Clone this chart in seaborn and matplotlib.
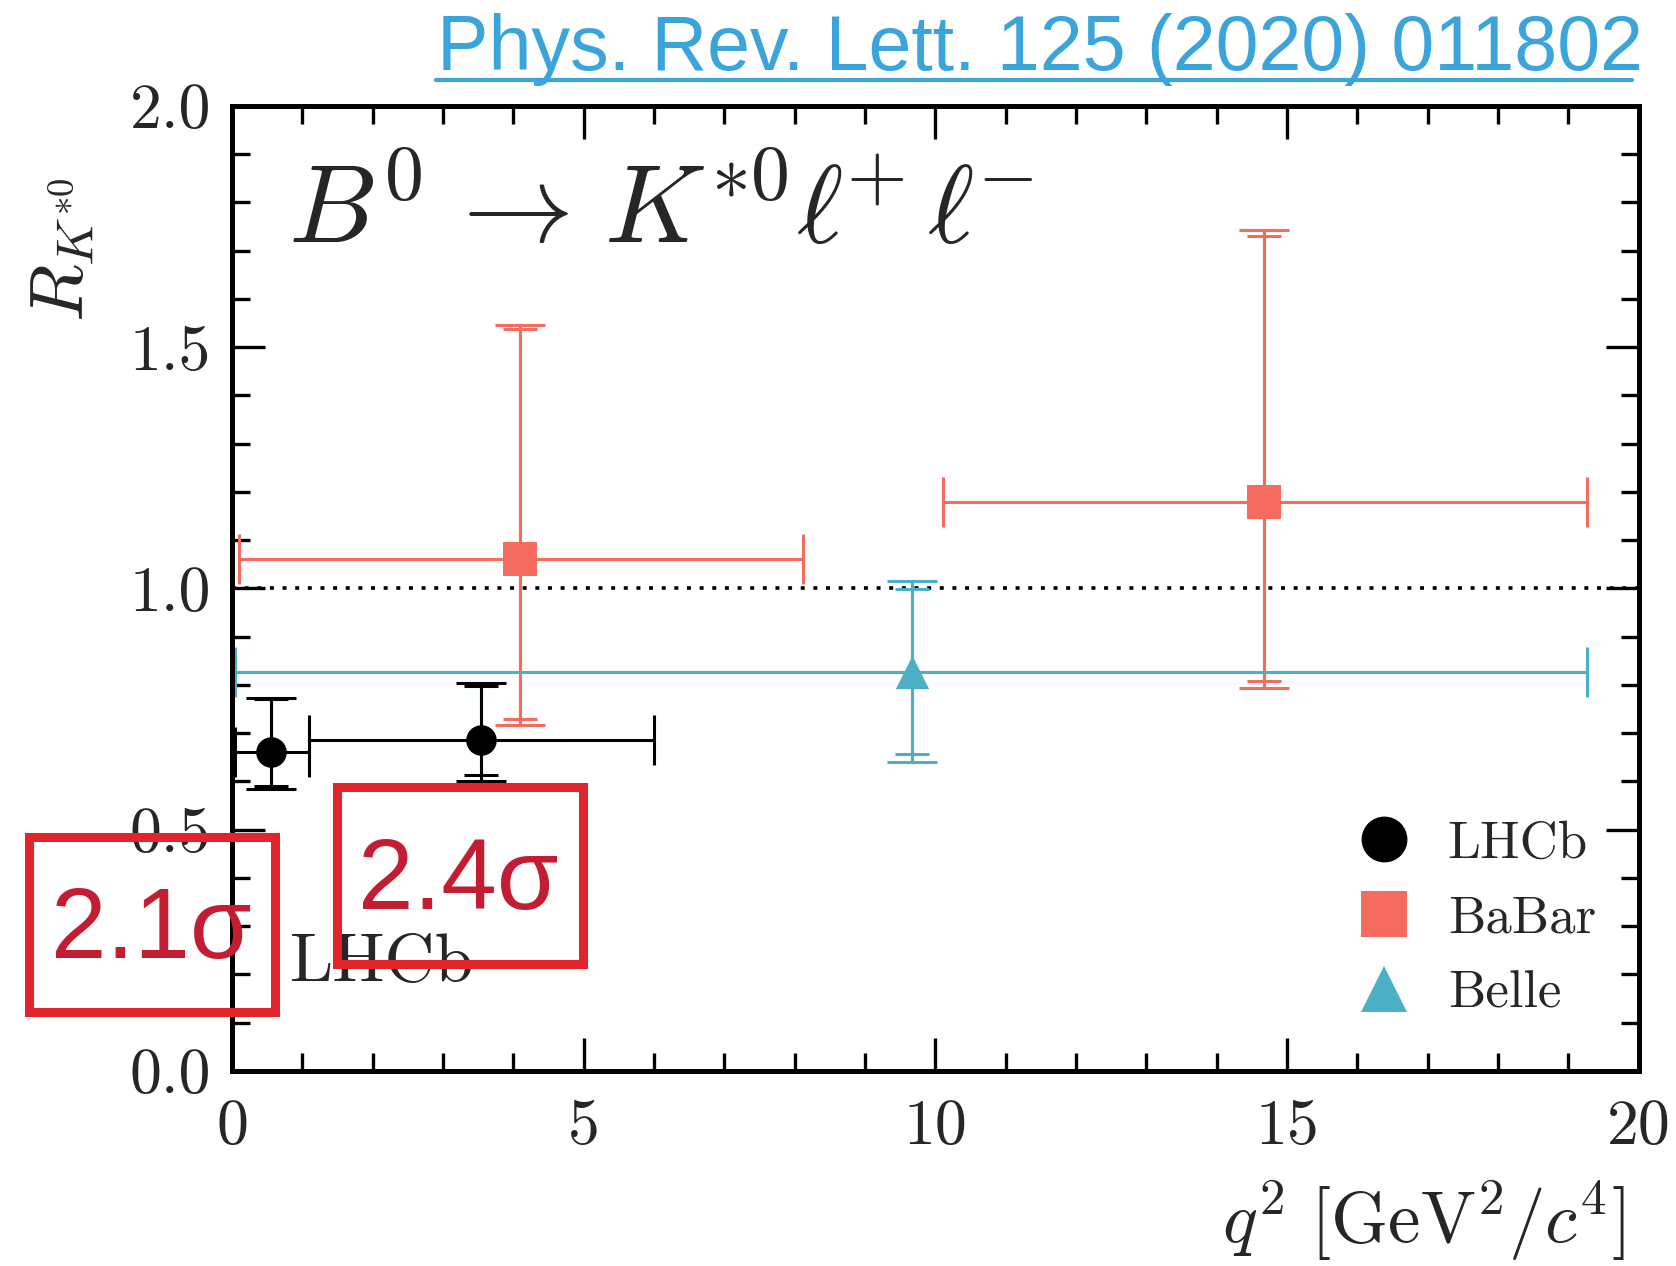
import matplotlib
matplotlib.use("Agg")
import matplotlib.pyplot as plt
from matplotlib.lines import Line2D
from matplotlib.patches import Rectangle
from matplotlib.ticker import MultipleLocator, FormatStrFormatter
import pandas as pd
import seaborn as sns

# ---- measurements: R_K*0 versus q^2 ----
lhcb_q2 = [0.56, 3.54]
lhcb_q2_lo = [0.045, 1.1]
lhcb_q2_hi = [1.1, 6.0]
lhcb_r = [0.66, 0.685]
lhcb_stat_up = [0.11, 0.112]
lhcb_stat_dn = [0.07, 0.072]
lhcb_tot_up = [0.113, 0.120]
lhcb_tot_dn = [0.075, 0.084]

babar_q2 = [4.10, 14.68]
babar_q2_lo = [0.10, 10.11]
babar_q2_hi = [8.12, 19.27]
babar_r = [1.06, 1.18]
babar_stat_up = [0.478, 0.550]
babar_stat_dn = [0.331, 0.371]
babar_tot_up = [0.486, 0.563]
babar_tot_dn = [0.343, 0.387]

belle_q2 = [9.67]
belle_q2_lo = [0.045]
belle_q2_hi = [19.27]
belle_r = [0.826]
belle_stat_up = [0.173]
belle_stat_dn = [0.169]
belle_tot_up = [0.190]
belle_tot_dn = [0.185]

experiments = ["LHCb", "BaBar", "Belle"]
colors = {"LHCb": "#000000", "BaBar": "#f46b5f", "Belle": "#4bafc5"}
markers = {"LHCb": "o", "BaBar": "s", "Belle": "^"}
marker_pt = {"LHCb": 22, "BaBar": 25, "Belle": 24}

significances = ["2.1\u03c3", "2.4\u03c3"]
reference = "Phys. Rev. Lett. 125 (2020) 011802"

rows = []
for name, q2, lo, hi, r, su, sd, tu, td in [
    ("LHCb", lhcb_q2, lhcb_q2_lo, lhcb_q2_hi, lhcb_r, lhcb_stat_up, lhcb_stat_dn, lhcb_tot_up, lhcb_tot_dn),
    ("BaBar", babar_q2, babar_q2_lo, babar_q2_hi, babar_r, babar_stat_up, babar_stat_dn, babar_tot_up, babar_tot_dn),
    ("Belle", belle_q2, belle_q2_lo, belle_q2_hi, belle_r, belle_stat_up, belle_stat_dn, belle_tot_up, belle_tot_dn),
]:
    for i in range(len(q2)):
        rows.append(dict(experiment=name, q2=q2[i], lo=lo[i], hi=hi[i], r=r[i],
                         stat_up=su[i], stat_dn=sd[i], tot_up=tu[i], tot_dn=td[i]))
df = pd.DataFrame(rows)

# ---- style ----
sns.set_theme(style="ticks")
plt.rcParams["font.family"] = ["cmr10", "DejaVu Sans"]
plt.rcParams["mathtext.fontset"] = "cm"
plt.rcParams["axes.formatter.use_mathtext"] = True
plt.rcParams["axes.unicode_minus"] = False

W, H = 1676, 1266
fig = plt.figure(figsize=(W / 100, H / 100), dpi=100)
fig.patch.set_facecolor("white")
ax = fig.add_axes([232 / W, 1 - 1071 / H, (1638.6 - 232) / W, (1071 - 105.8) / H])
ax.set_facecolor("white")


def fx(px):
    return px / W


def fy(py):
    return 1 - py / H


# reference line at R = 1
ax.axhline(1.0, color="black", lw=2.6, dashes=(1.1, 2.4), zorder=1)

# error bars: total (wide caps) and statistical (narrow caps)
for _, row in df.iterrows():
    c = colors[row.experiment]
    ax.errorbar(row.q2, row.r,
                xerr=[[row.q2 - row.lo], [row.hi - row.q2]],
                yerr=[[row.tot_dn], [row.tot_up]],
                fmt="none", ecolor=c, elinewidth=2.2, capsize=18, capthick=2.2, zorder=2)
    ax.errorbar(row.q2, row.r, yerr=[[row.stat_dn], [row.stat_up]],
                fmt="none", ecolor=c, elinewidth=2.2, capsize=12, capthick=2.2, zorder=2)

# central values
for name in experiments:
    sub = df[df.experiment == name]
    sns.scatterplot(data=sub, x="q2", y="r", ax=ax, marker=markers[name],
                    color=colors[name], s=marker_pt[name] ** 2, linewidth=0,
                    legend=False, zorder=3)

ax.set_xlim(0, 20)
ax.set_ylim(0, 2.0)
ax.xaxis.set_major_locator(MultipleLocator(5))
ax.xaxis.set_minor_locator(MultipleLocator(1))
ax.yaxis.set_major_locator(MultipleLocator(0.5))
ax.yaxis.set_minor_locator(MultipleLocator(0.1))
ax.yaxis.set_major_formatter(FormatStrFormatter("%.1f"))
ax.xaxis.set_major_formatter(FormatStrFormatter("%d"))
ax.tick_params(which="both", direction="in", top=True, right=True, width=2.4, color="black")
ax.tick_params(which="major", length=24)
ax.tick_params(which="minor", length=13)
ax.tick_params(axis="y", which="major", pad=15, labelsize=46)
ax.tick_params(axis="x", which="major", pad=20, labelsize=46)
for sp in ax.spines.values():
    sp.set_linewidth(3.6)
    sp.set_color("black")
    sp.set_visible(True)

ax.set_xlabel(r"$q^2\ [\mathrm{GeV}^2/c^4]$", fontsize=52.5, ha="right", va="center")
ax.xaxis.set_label_coords(0.99, -0.155)
ax.set_ylabel(r"$R_{K^{*0}}$", fontsize=54, ha="center", va="center")
ax.yaxis.set_label_coords(-0.12, 0.851)

ax.text(0.04, 0.858,
        r"$B^0\hspace{0.12}\rightarrow\hspace{0.12}K^{*0}\ell^{\!\!+}\ell^{\!\!-}$",
        transform=ax.transAxes, fontsize=80, ha="left", va="baseline")
ax.text(fx(290), fy(981), "LHCb", transform=fig.transFigure, fontsize=50,
        ha="left", va="baseline", zorder=4)

handles = [Line2D([], [], ls="none", marker=markers[n], color=colors[n],
                  markeredgewidth=0, markersize=33) for n in experiments]
ax.legend(handles, experiments, loc="center left", bbox_to_anchor=(fx(1358), fy(919)),
          bbox_transform=fig.transFigure, frameon=False, fontsize=38,
          handlelength=1.0, handletextpad=0.7, labelspacing=0.53, borderpad=0,
          borderaxespad=0)

# highlighted significances
box_color = "#e2242d"
text_color = "#c21d30"
for (x0, y0, x1, y1), (tx, ty), label in [
    ((29, 837, 274.5, 1012), (151, 958), significances[0]),
    ((337, 787, 582.5, 963.5), (458.5, 909), significances[1]),
]:
    fig.add_artist(Rectangle((fx(x0), fy(y1)), fx(x1) - fx(x0), fy(y0) - fy(y1),
                             transform=fig.transFigure, fill=False,
                             edgecolor=box_color, linewidth=6.5, zorder=10))
    fig.text(fx(tx), fy(ty), label, family="Liberation Sans", fontsize=72,
             color=text_color, ha="center", va="baseline", zorder=11)

# citation in the top-right corner
link_color = "#3ba5db"
fig.text(fx(437), fy(70), reference, family="Liberation Sans", fontsize=55.5,
         color=link_color, ha="left", va="baseline")
fig.add_artist(Line2D([fx(436), fx(1632)], [fy(80), fy(80)], transform=fig.transFigure,
                      color=link_color, lw=3.0))

fig.savefig("out.png", dpi=100, facecolor="white")
